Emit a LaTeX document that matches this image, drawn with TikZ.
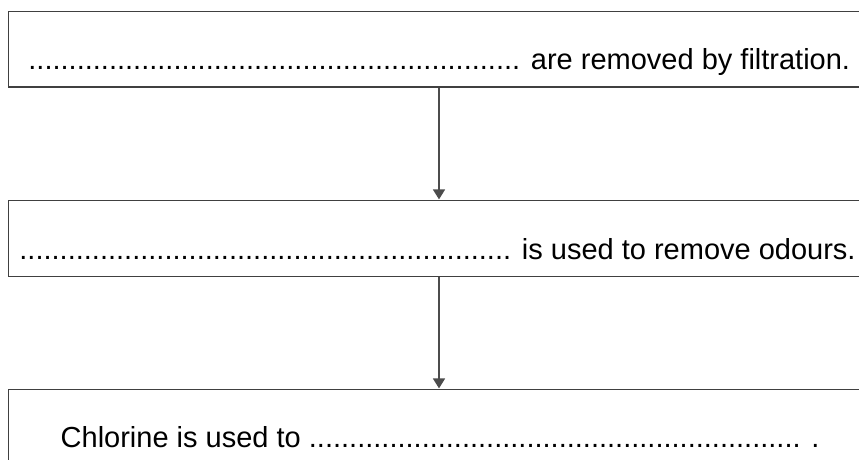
\documentclass[tikz,border=0pt]{standalone}
\usepackage{fontspec}
\setmainfont{Liberation Sans}
\usetikzlibrary{arrows.meta}
\begin{document}
\begin{tikzpicture}[x=1pt,y=1pt,
  stagebox/.style={draw=black!75, line width=1.3pt, rectangle, inner sep=0pt,
    minimum width=900pt, anchor=north west},
  stagetext/.style={inner sep=0pt, font=\fontsize{29}{35}\selectfont},
  flow/.style={draw=black!70, line width=1.6pt,
    -{Triangle[width=12pt,length=10pt]}, shorten >=0.6pt}]
\clip (0,0) rectangle (859,460);
\fill[white] (0,0) rectangle (859,460);

% three process stages (the right side runs off the page)
\node[stagebox, minimum height=75.5pt] (s1) at (7.5,449) {};
\node[stagebox, minimum height=76pt]   (s2) at (7.5,260) {};
\node[stagebox, minimum height=90pt]   (s3) at (7.5,71)  {};

% fill-in sentences
\node[stagetext, anchor=base east] (t1) at (850,390)
  {............................................................. are removed by filtration.};
\node[stagetext, anchor=base east] (t2) at (855.5,200)
  {............................................................. is used to remove odours.};
\node[stagetext, anchor=base west] (t3) at (60.5,12)
  {Chlorine is used to ............................................................. .};

% arrows between stages
\coordinate (ax) at (439,0);
\draw[flow] (s1.south -| ax) -- (s2.north -| ax);
\draw[flow] (s2.south -| ax) -- (s3.north -| ax);
\end{tikzpicture}
\end{document}
